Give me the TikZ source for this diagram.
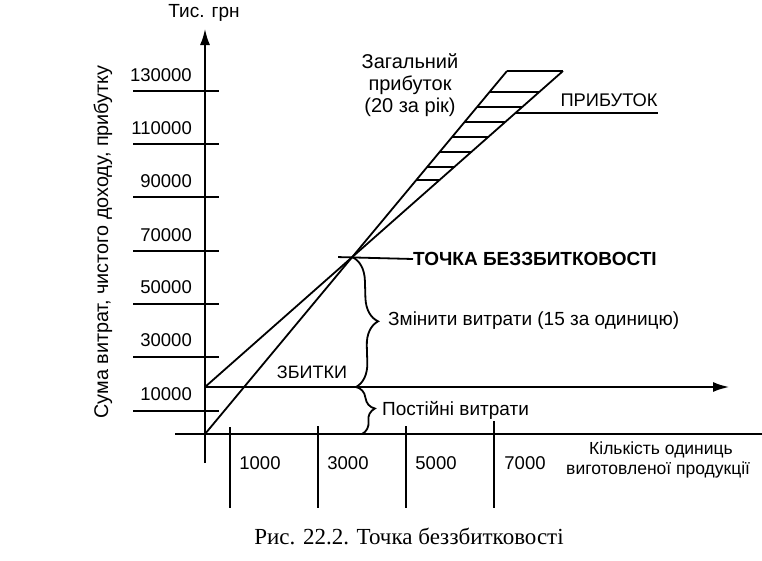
\documentclass[tikz,border=0pt]{standalone}
\usepackage{fontspec}
\setmainfont{Liberation Sans}
\newfontfamily\capfont{Liberation Serif}
\usepackage{tikz}
\usetikzlibrary{arrows,arrows.meta,calc,decorations.pathreplacing}

\begin{document}
\begin{tikzpicture}[x=1pt,y=-1pt]
\tikzstyle{axis}=[line width=2.8pt, -{Latex[length=17pt,width=10pt]}]
\tikzstyle{tick}=[line width=2.4pt]
\tikzstyle{connect}=[line width=1.8pt]
\tikzstyle{hatch}=[line width=1.8pt]
\tikzstyle{num}=[anchor=east, inner sep=0pt, font=\fontsize{18.5}{20}\selectfont]
\tikzstyle{lbl}=[inner sep=0pt, font=\fontsize{19}{22}\selectfont]
\tikzstyle{brace}=[line width=1.8pt, decorate, decoration={brace, amplitude=#1}]

  \useasboundingbox (0,0) rectangle (762,560);

  % axes
  \coordinate (O)  at (205,434);
  \coordinate (F)  at (205,387);
  \coordinate (Rt) at (507,71);
  \coordinate (Ct) at (563,71);
  \draw[axis] (205,463) -- (205,28);
  \draw[axis] (F) -- (730,387);
  \draw[tick] (175,434) -- (762,434);

  \node[lbl] (unit) at (204,13) {Тис. грн};
  \node[lbl, rotate=90, font=\fontsize{19.8}{22}\selectfont] (ylab) at (103,242) {Сума витрат, чистого доходу, прибутку};

  \node[num] (v130) at (192,75)  {130000};
  \node[num] (v110) at (192,128) {110000};
  \node[num] (v90)  at (192,181) {90000};
  \node[num] (v70)  at (192,235) {70000};
  \node[num] (v50)  at (192,287) {50000};
  \node[num] (v30)  at (192,340) {30000};
  \node[num] (v10)  at (192,394) {10000};
  \draw[tick] (133,91) -- (219,91)   (133,144) -- (219,144)
              (133,197) -- (219,197) (133,251) -- (219,251)
              (133,304) -- (219,304) (133,357) -- (219,357)
              (133,411) -- (219,411);

  \node[num, anchor=center] (x1) at (260,463) {1000};
  \node[num, anchor=center, node distance=88pt] (x3) [right of=x1] {3000};
  \node[num, anchor=center, node distance=88pt] (x5) [right of=x3] {5000};
  \node[num, anchor=center, node distance=89pt] (x7) [right of=x5] {7000};
  \draw[tick] (230,427) -- (230,508)  (318,426) -- (318,508)
              (406,426) -- (406,508)  (494,421) -- (494,508);
  \node[lbl, font=\fontsize{17.5}{20}\selectfont] (qty) at (661,450) {Кількість одиниць};
  \node[lbl, anchor=west, font=\fontsize{17.5}{20}\selectfont] (qty2) at (566,470) {виготовленої продукції};

  % cost and revenue lines
  \coordinate (B) at (intersection of O--Rt and F--Ct);
  \path (O) edge [connect] (Rt)
        (F) edge [connect] (Ct)
        (Rt) edge [hatch] (Ct);
  \foreach \h in {92,107,122,137,152,167,180}
    \draw[hatch] (intersection of O--Rt and 0,\h--1,\h) -- (intersection of F--Ct and 0,\h--1,\h);

  \node[lbl, align=center, font=\fontsize{20}{22}\selectfont] (total) at (410,85) {Загальний\\прибуток\\(20 за рік)};
  \node[lbl, font=\fontsize{18.3}{20}\selectfont] (profit) at (609,100) {ПРИБУТОК};
  \coordinate (Pl) at (intersection of F--Ct and 0,113--1,113);
  \draw[connect] (Pl) -- (Pl -| profit.east);

  \node[lbl, anchor=west, font=\fontsize{19}{20}\selectfont\bfseries] (bep) at (413,259) {ТОЧКА БЕЗЗБИТКОВОСТІ};
  \draw[connect] ($(B)+(-14,0)$) -- (bep.west);

  \coordinate (Bm) at (356,387);
  \coordinate (Bb) at (362,434);
  \draw[brace=24pt] (B) -- (Bm);
  \draw[brace=16pt] (Bm) -- (Bb);
  \node[lbl, anchor=west] (var) at (388,321) {Змінити витрати (15 за одиницю)};
  \node[lbl, anchor=west] (fix) at (382,410) {Постійні витрати};
  \node[lbl, font=\fontsize{18}{20}\selectfont] (loss) at (312,372) {ЗБИТКИ};

  \node[font=\capfont\fontsize{23}{24}\selectfont] (cap) at (409,536) {Рис. 22.2. Точка беззбитковості};

\end{tikzpicture}
\end{document}
